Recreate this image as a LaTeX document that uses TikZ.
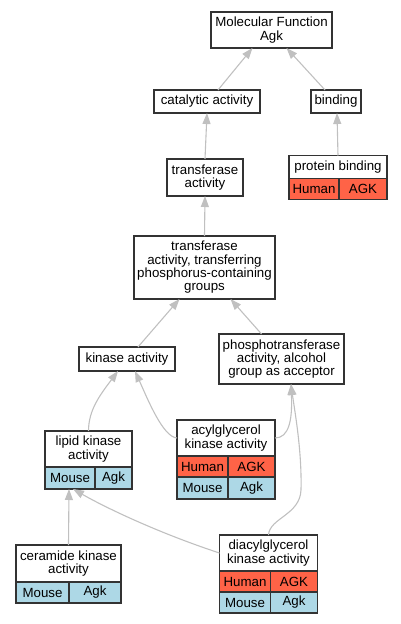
\documentclass[tikz,border=0pt]{standalone}
\usepackage{fontspec}
\setmainfont{Liberation Sans}
\usetikzlibrary{arrows.meta,calc}
\definecolor{hum}{HTML}{FF6347}
\definecolor{mou}{HTML}{ADD8E6}
\definecolor{lnk}{HTML}{C0C0C0}
\definecolor{brd}{HTML}{333333}
\begin{document}
\begin{tikzpicture}[x=1pt,y=-1pt,
  box/.style={draw=brd,line width=1.3pt,fill=white,inner sep=0pt,outer sep=0pt,anchor=north west,align=center,
    font=\fontsize{13.3}{13.3}\selectfont},
  hcell/.style={box,fill=hum},
  mcell/.style={box,fill=mou},
  conn/.style={draw=lnk,line width=1.1pt,-{Triangle[length=11pt,width=8pt]}}]
\useasboundingbox (0,0) rectangle (401,624);
% plain boxes
\node[box,minimum width=121pt,minimum height=36pt] (mf) at (211,12) {Molecular Function\\Agk};
\node[box,minimum width=106pt,minimum height=23pt] (cat) at (154,90) {catalytic activity};
\node[box,minimum width=50pt,minimum height=23pt] (bind) at (311,90) {binding};
\node[box,minimum width=76pt,minimum height=37pt] (trans) at (167,159) {transferase\\activity};
\node[box,minimum width=141pt,minimum height=63pt] (tpc) at (134,236) {transferase\\activity, transferring\\phosphorus-containing\\groups};
\node[box,minimum width=96pt,minimum height=24pt] (kin) at (79,347) {kinase activity};
\node[box,minimum width=125pt,minimum height=50pt] (pho) at (219,334) {phosphotransferase\\activity, alcohol\\group as acceptor};
% protein binding
\node[box,minimum width=98pt,minimum height=23pt] (pb) at (289,155.5) {protein binding};
\node[hcell,minimum width=50pt,minimum height=21pt] (pbH) at (289,178.5) {Human};
\node[hcell,minimum width=48pt,minimum height=21pt] (pbA) at (339,178.5) {AGK};
% lipid kinase
\node[box,minimum width=87pt,minimum height=36pt] (lip) at (45,431) {lipid kinase\\activity};
\node[mcell,minimum width=50pt,minimum height=22pt] (lipM) at (45,467) {Mouse};
\node[mcell,minimum width=37pt,minimum height=22pt] (lipA) at (95,467) {Agk};
% acylglycerol
\node[box,minimum width=98pt,minimum height=36pt] (acy) at (177,420) {acylglycerol\\kinase activity};
\node[hcell,minimum width=51pt,minimum height=21pt] (acyH) at (177,456) {Human};
\node[hcell,minimum width=47pt,minimum height=21pt] (acyA) at (228,456) {AGK};
\node[mcell,minimum width=51pt,minimum height=22pt] (acyM) at (177,477) {Mouse};
\node[mcell,minimum width=47pt,minimum height=22pt] (acyG) at (228,477) {Agk};
% ceramide
\node[box,minimum width=105pt,minimum height=37pt] (cer) at (16,545) {ceramide kinase\\activity};
\node[mcell,minimum width=53pt,minimum height=21pt] (cerM) at (16,582) {Mouse};
\node[mcell,minimum width=52pt,minimum height=21pt] (cerA) at (69,582) {Agk};
% diacylglycerol
\node[box,minimum width=98pt,minimum height=36pt] (dia) at (219.5,535) {diacylglycerol\\kinase activity};
\node[hcell,minimum width=51pt,minimum height=21pt] (diaH) at (219.5,571) {Human};
\node[hcell,minimum width=47pt,minimum height=21pt] (diaA) at (270.5,571) {AGK};
\node[mcell,minimum width=51pt,minimum height=21pt] (diaM) at (219.5,592) {Mouse};
\node[mcell,minimum width=47pt,minimum height=21pt] (diaG) at (270.5,592) {Agk};
% connectors
\draw[conn] ([xshift=11pt]cat.north) -- ([xshift=-19pt]mf.south);
\draw[conn] ([xshift=-11pt]bind.north) -- ([xshift=15pt]mf.south);
\draw[conn] (trans.north) -- (cat.south);
\draw[conn] (pb.north) -- ([xshift=1pt]bind.south);
\draw[conn] (tpc.north) -- (trans.south);
\draw[conn] ([xshift=11pt]kin.north) -- ([xshift=-25pt]tpc.south);
\draw[conn] ([xshift=-20pt]pho.north) -- ([xshift=26pt]tpc.south);
\draw[conn] (lip.north) .. controls ($(lip.north)+(0,-21)$) and ($(kin.south)+(-27,24)$) .. ([xshift=-9pt]kin.south);
\draw[conn] (acy.west) .. controls ($(acy.west)+(-14,-1)$) and ($(kin.south)+(21,29)$) .. ([xshift=8pt]kin.south);
\draw[conn] (acy.east) .. controls ($(acy.east)+(14,0)$) and ($(pho.south)+(11,36)$) .. ([xshift=9.5pt]pho.south);
\draw[conn] (dia.north) .. controls ($(dia.north)+(1,-17)$) and (300,515) .. (301,490)
  .. controls (302,450) and ($(pho.south)+(13,26)$) .. ([xshift=9.5pt]pho.south);
\draw[conn] (dia.west) .. controls ($(dia.west)+(-58,-19)$) and ($(lipM.south)+(38,20)$) .. ([xshift=3pt]lipM.south);
\draw[conn] (cer.north) -- ([xshift=-1pt]lipM.south);
\end{tikzpicture}
\end{document}
